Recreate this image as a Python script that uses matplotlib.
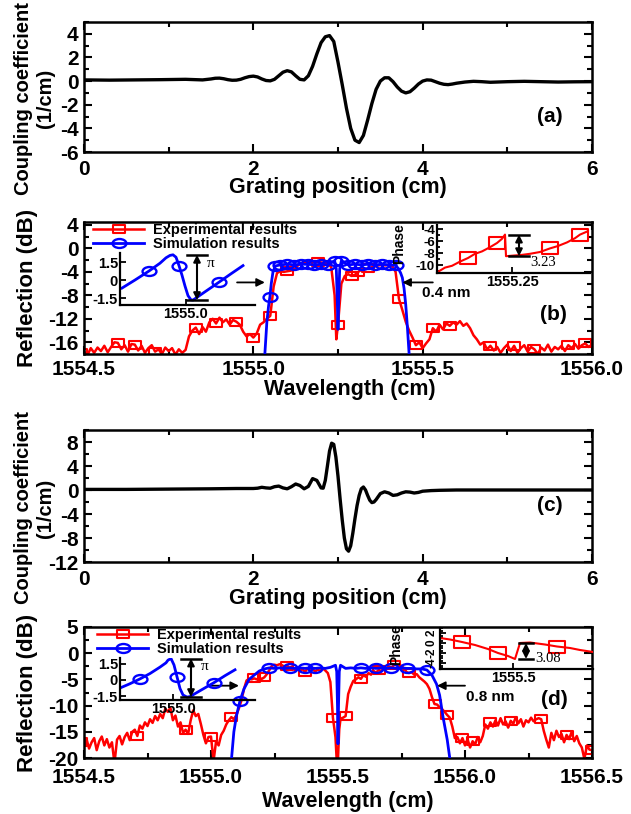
import numpy as np
import matplotlib
matplotlib.use("Agg")
import matplotlib.pyplot as plt
from matplotlib.path import Path
from matplotlib.lines import Line2D
from matplotlib.ticker import MultipleLocator, FixedLocator, FormatStrFormatter, FixedFormatter

plt.rcParams['font.family'] = ['Liberation Sans', 'DejaVu Sans']
plt.rcParams['font.weight'] = 'bold'
plt.rcParams['axes.labelweight'] = 'bold'
plt.rcParams['axes.unicode_minus'] = False

# ---------------- data: panel (a) ----------------
a_pos = [0.0, 0.3, 0.6, 0.9, 1.2, 1.4, 1.5, 1.55, 1.6, 1.65,
         1.7, 1.75, 1.8, 1.85, 1.9, 1.95, 2.0, 2.05, 2.1, 2.15,
         2.2, 2.25, 2.3, 2.35, 2.4, 2.45, 2.5, 2.55, 2.6, 2.65,
         2.7, 2.75, 2.8, 2.85, 2.9, 2.95, 3.0, 3.05, 3.1, 3.15,
         3.2, 3.25, 3.3, 3.35, 3.4, 3.45, 3.5, 3.55, 3.6, 3.65,
         3.7, 3.75, 3.8, 3.85, 3.9, 3.95, 4.0, 4.05, 4.1, 4.15,
         4.2, 4.25, 4.3, 4.35, 4.4, 4.5, 4.6, 4.7, 4.8, 5.0,
         5.2, 5.4, 5.6, 5.8, 6.0]
a_kappa = [0.10, 0.08, 0.10, 0.12, 0.15, 0.10, 0.18, 0.24, 0.25, 0.20,
           0.12, 0.07, 0.08, 0.15, 0.28, 0.38, 0.42, 0.35, 0.18, 0.05,
           0.02, 0.15, 0.45, 0.75, 0.88, 0.78, 0.45, 0.15, 0.10, 0.45,
           1.25, 2.30, 3.25, 3.75, 3.85, 3.35, 1.60, -0.30, -2.30, -4.00,
           -5.00, -5.20, -4.60, -3.30, -1.90, -0.70, 0.00, 0.28, 0.28, -0.05,
           -0.50, -0.85, -1.00, -0.90, -0.60, -0.25, 0.00, 0.10, 0.08, -0.05,
           -0.18, -0.27, -0.30, -0.25, -0.18, -0.08, -0.02, -0.05, -0.10, -0.05,
           -0.02, -0.05, -0.08, -0.06, -0.05]

# ---------------- data: panel (c) ----------------
c_pos = [0.0, 0.5, 1.0, 1.5, 1.8, 2.0, 2.05, 2.1, 2.15, 2.2,
         2.25, 2.3, 2.35, 2.4, 2.45, 2.5, 2.55, 2.6, 2.65, 2.7,
         2.75, 2.8, 2.825, 2.85, 2.875, 2.9, 2.925, 2.95, 2.975, 3.0,
         3.025, 3.05, 3.075, 3.1, 3.125, 3.15, 3.175, 3.2, 3.225, 3.25,
         3.275, 3.3, 3.325, 3.35, 3.375, 3.4, 3.425, 3.45, 3.5, 3.55,
         3.6, 3.65, 3.7, 3.75, 3.8, 3.85, 3.9, 3.95, 4.0, 4.1,
         4.2, 4.4, 4.6, 5.0, 5.5, 6.0]
c_kappa = [0.10, 0.10, 0.15, 0.20, 0.25, 0.25, 0.30, 0.45, 0.35, 0.30,
           0.55, 0.65, 0.35, 0.20, 0.55, 1.00, 0.75, 0.20, 0.60, 1.90,
           1.60, 0.35, 0.30, 1.60, 4.00, 6.50, 7.80, 7.60, 5.50, 2.30,
           -1.50, -5.00, -8.00, -9.80, -10.20, -9.30, -7.20, -4.80, -2.60, -0.90,
           0.20, 0.50, 0.00, -0.90, -1.70, -2.10, -2.00, -1.60, -0.60, -0.30,
           -0.50, -0.90, -0.80, -0.50, -0.30, -0.35, -0.50, -0.40, -0.20, -0.10,
           -0.05, 0.00, 0.00, 0.00, 0.00, 0.00]

# ---------------- data: panel (b) ----------------
b_exp_wl = [1554.48, 1554.49, 1554.50, 1554.51, 1554.52, 1554.53, 1554.54, 1554.55, 1554.56, 1554.57,
            1554.58, 1554.59, 1554.60, 1554.61, 1554.62, 1554.63, 1554.64, 1554.65, 1554.66, 1554.67,
            1554.68, 1554.69, 1554.70, 1554.71, 1554.72, 1554.73, 1554.74, 1554.75, 1554.76, 1554.77,
            1554.78, 1554.79, 1554.80, 1554.81, 1554.82, 1554.83, 1554.84, 1554.85, 1554.86, 1554.87,
            1554.88, 1554.89, 1554.90, 1554.91, 1554.92, 1554.93, 1554.94, 1554.95, 1554.96, 1554.97,
            1554.98, 1554.99, 1555.00, 1555.01, 1555.02, 1555.03, 1555.04, 1555.05, 1555.06, 1555.07,
            1555.08, 1555.09, 1555.10, 1555.11, 1555.12, 1555.13, 1555.14, 1555.15, 1555.16, 1555.17,
            1555.18, 1555.19, 1555.20, 1555.21, 1555.22, 1555.23, 1555.24, 1555.245, 1555.25, 1555.26,
            1555.27, 1555.28, 1555.29, 1555.30, 1555.31, 1555.32, 1555.33, 1555.34, 1555.35, 1555.36,
            1555.37, 1555.38, 1555.39, 1555.40, 1555.41, 1555.42, 1555.43, 1555.44, 1555.45, 1555.46,
            1555.47, 1555.48, 1555.49, 1555.50, 1555.51, 1555.52, 1555.53, 1555.54, 1555.55, 1555.56,
            1555.57, 1555.58, 1555.59, 1555.60, 1555.61, 1555.62, 1555.63, 1555.64, 1555.65, 1555.66,
            1555.67, 1555.68, 1555.69, 1555.70, 1555.71, 1555.72, 1555.73, 1555.74, 1555.75, 1555.76,
            1555.77, 1555.78, 1555.79, 1555.80, 1555.81, 1555.82, 1555.83, 1555.84, 1555.85, 1555.86,
            1555.87, 1555.88, 1555.89, 1555.90, 1555.91, 1555.92, 1555.93, 1555.94, 1555.95, 1555.96,
            1555.97, 1555.98, 1555.99, 1556.00]
b_exp_db = [-17.9, -17.9, -17.6, -18.2, -17.0, -17.8, -16.9, -17.5, -16.6, -17.7,
            -16.8, -16.0, -16.1, -17.2, -16.5, -17.6, -16.3, -16.4, -17.4, -16.6,
            -17.8, -17.0, -16.5, -17.6, -17.2, -18.0, -16.9, -17.5, -17.0, -18.1,
            -17.2, -17.8, -17.3, -15.0, -14.0, -13.5, -14.6, -13.4, -14.2, -12.6,
            -12.0, -12.8, -11.8, -12.6, -12.1, -13.0, -12.2, -12.5, -13.0, -14.2,
            -15.0, -14.6, -15.2, -14.5, -13.0, -12.6, -12.0, -11.5, -6.5, -4.2,
            -3.9, -4.0, -3.9, -3.8, -3.6, -3.0, -2.5, -2.4, -2.3, -2.2,
            -2.4, -2.3, -2.4, -2.5, -2.6, -3.2, -8.0, -15.5, -13.0, -6.0,
            -4.7, -4.4, -4.7, -4.5, -4.0, -3.6, -3.5, -3.4, -3.2, -3.0,
            -2.9, -2.8, -2.9, -2.8, -3.0, -4.0, -8.6, -10.5, -12.5, -14.0,
            -15.2, -16.5, -16.0, -17.0, -16.2, -15.5, -13.6, -14.2, -13.0, -13.8,
            -12.8, -13.2, -12.6, -13.0, -12.4, -13.2, -12.8, -13.6, -14.8, -15.5,
            -16.4, -16.0, -17.2, -16.6, -17.4, -16.8, -17.8, -17.0, -16.4, -17.5,
            -16.6, -17.8, -17.0, -16.5, -17.6, -16.8, -17.2, -18.0, -16.9, -17.4,
            -16.4, -17.6, -16.8, -17.2, -16.6, -17.5, -16.5, -17.0, -16.3, -17.1,
            -16.5, -16.2, -16.8, -16.4]
b_exp_marks = [1554.49, 1554.60, 1554.65, 1554.71, 1554.83, 1554.89, 1554.95, 1555.00,
               1555.05, 1555.10, 1555.19, 1555.25, 1555.29, 1555.31, 1555.34, 1555.43,
               1555.48, 1555.53, 1555.58, 1555.70, 1555.77, 1555.83, 1555.93, 1555.98]

b_sim_wl = [1555.034, 1555.040, 1555.045, 1555.049, 1555.053, 1555.058, 1555.065,
            1555.08, 1555.10, 1555.12, 1555.14, 1555.16, 1555.18, 1555.20, 1555.22, 1555.24,
            1555.245, 1555.248, 1555.25, 1555.252, 1555.255,
            1555.26, 1555.28, 1555.30, 1555.32, 1555.34, 1555.36, 1555.38, 1555.40, 1555.42,
            1555.428, 1555.435, 1555.44, 1555.445, 1555.45, 1555.455, 1555.46]
b_sim_db = [-18.0, -12.5, -9.8, -8.2, -6.0, -4.0, -3.0,
            -2.8, -2.7, -2.8, -2.7, -2.7, -2.8, -2.7, -2.8, -2.1,
            -3.5, -9.0, -13.8, -9.0, -3.5,
            -2.1, -2.8, -2.7, -2.8, -2.7, -2.8, -2.7, -2.8, -2.9,
            -3.4, -4.2, -5.0, -6.8, -9.6, -13.5, -18.0]
b_sim_marks = [1555.049, 1555.065, 1555.08, 1555.10, 1555.12, 1555.14, 1555.16, 1555.18,
               1555.20, 1555.22, 1555.24, 1555.26, 1555.28, 1555.30, 1555.32, 1555.34,
               1555.36, 1555.38, 1555.40, 1555.42]

# inset (b) left: simulated phase around 1555.0 nm
b_in_wl = [1554.936, 1554.949, 1554.963, 1554.974, 1554.980, 1554.984, 1554.987, 1554.990, 1554.993,
           1554.996, 1554.999, 1555.002, 1555.005, 1555.007, 1555.019, 1555.033, 1555.045, 1555.057]
b_in_phase = [-0.67, 0.00, 0.75, 1.40, 1.85, 2.05, 2.10, 1.90, 1.20,
              0.40, -0.50, -1.30, -1.65, -1.67, -0.98, -0.18, 0.52, 1.20]
b_in_marks = [1554.963, 1554.993, 1555.033]

# inset (b) right: measured phase around 1555.25 nm
b_ph_wl = [1555.102, 1555.116, 1555.130, 1555.146, 1555.162, 1555.176, 1555.190, 1555.206,
           1555.220, 1555.230, 1555.236, 1555.238, 1555.252, 1555.268, 1555.286, 1555.306,
           1555.326, 1555.342, 1555.360, 1555.376, 1555.386, 1555.400]
b_ph = [-11.1, -10.4, -10.1, -9.4, -8.8, -8.1, -7.7, -7.0,
        -6.3, -5.6, -4.9, -8.5, -8.4, -8.3, -8.1, -7.8,
        -7.2, -6.8, -6.2, -5.5, -4.9, -4.4]
b_ph_marks = [1555.162, 1555.220, 1555.326, 1555.386]

# ---------------- data: panel (d) ----------------
d_exp_wl = [1554.47, 1554.48, 1554.49, 1554.50, 1554.51, 1554.52, 1554.53, 1554.54, 1554.55, 1554.56,
            1554.57, 1554.58, 1554.59, 1554.60, 1554.61, 1554.62, 1554.63, 1554.64, 1554.65, 1554.66,
            1554.67, 1554.68, 1554.69, 1554.70, 1554.71, 1554.72, 1554.73, 1554.74, 1554.75, 1554.76,
            1554.77, 1554.78, 1554.79, 1554.80, 1554.81, 1554.82, 1554.83, 1554.84, 1554.85, 1554.86,
            1554.87, 1554.88, 1554.89, 1554.90, 1554.91, 1554.92, 1554.93, 1554.94, 1554.95, 1554.96,
            1554.97, 1554.98, 1554.99, 1555.00, 1555.01, 1555.02, 1555.03, 1555.04, 1555.05, 1555.06,
            1555.07, 1555.08, 1555.09, 1555.10, 1555.11, 1555.12, 1555.13, 1555.14, 1555.15, 1555.16,
            1555.17, 1555.18, 1555.19, 1555.20, 1555.21, 1555.22, 1555.23, 1555.24, 1555.25, 1555.26,
            1555.27, 1555.28, 1555.29, 1555.30, 1555.31, 1555.32, 1555.33, 1555.34, 1555.35, 1555.36,
            1555.37, 1555.38, 1555.39, 1555.40, 1555.41, 1555.42, 1555.43, 1555.44, 1555.45, 1555.46,
            1555.47, 1555.48, 1555.49, 1555.495, 1555.50, 1555.505, 1555.51, 1555.52, 1555.53, 1555.54,
            1555.55, 1555.56, 1555.57, 1555.58, 1555.59, 1555.60, 1555.61, 1555.62, 1555.63, 1555.64,
            1555.65, 1555.66, 1555.67, 1555.68, 1555.69, 1555.70, 1555.71, 1555.72, 1555.73, 1555.74,
            1555.75, 1555.76, 1555.77, 1555.78, 1555.79, 1555.80, 1555.81, 1555.82, 1555.83, 1555.84,
            1555.85, 1555.86, 1555.87, 1555.88, 1555.89, 1555.90, 1555.91, 1555.92, 1555.93, 1555.94,
            1555.95, 1555.96, 1555.97, 1555.98, 1555.99, 1556.00, 1556.01, 1556.02, 1556.03, 1556.04,
            1556.05, 1556.06, 1556.07, 1556.08, 1556.09, 1556.10, 1556.11, 1556.12, 1556.13, 1556.14,
            1556.15, 1556.16, 1556.17, 1556.18, 1556.19, 1556.20, 1556.21, 1556.22, 1556.23, 1556.24,
            1556.25, 1556.26, 1556.27, 1556.28, 1556.29, 1556.30, 1556.31, 1556.32, 1556.33, 1556.34,
            1556.35, 1556.36, 1556.37, 1556.38, 1556.39, 1556.40, 1556.41, 1556.42, 1556.43, 1556.44,
            1556.45, 1556.46, 1556.47, 1556.48, 1556.49, 1556.50, 1556.51]
d_exp_db = [-16.8, -16.6, -16.9, -17.8, -16.4, -18.2, -17.0, -16.2, -18.5, -16.8,
            -15.9, -17.6, -16.4, -18.0, -17.0, -21.0, -16.5, -15.8, -17.4, -16.0,
            -15.2, -16.6, -15.0, -14.6, -15.8, -13.8, -14.4, -13.2, -13.9, -12.6,
            -13.3, -12.0, -12.8, -11.6, -12.4, -10.6, -11.2, -10.4, -12.8, -11.9,
            -14.0, -13.2, -15.2, -14.6, -15.4, -12.8, -10.9, -12.0, -11.6, -13.5,
            -15.6, -17.2, -16.0, -15.9, -20.6, -16.8, -17.6, -15.6, -14.8, -13.6,
            -12.8, -12.2, -12.6, -11.8, -10.5, -9.0, -6.8, -5.2, -4.9, -5.0,
            -4.8, -5.0, -4.7, -4.9, -4.6, -4.0, -3.2, -2.4, -2.2, -2.3,
            -2.1, -2.3, -2.6, -2.4, -2.8, -2.5, -3.2, -2.7, -3.4, -3.0,
            -3.6, -2.9, -3.3, -3.0, -3.5, -3.1, -3.4, -2.9, -3.3, -3.8,
            -5.5, -12.3, -16.0, -20.5, -20.0, -14.5, -12.5, -12.3, -12.0, -7.8,
            -6.4, -5.3, -5.0, -4.6, -4.9, -4.2, -4.5, -3.8, -4.1, -3.4,
            -3.7, -3.2, -3.4, -2.9, -3.1, -2.5, -2.8, -2.3, -2.2, -2.6,
            -2.4, -2.9, -3.6, -3.8, -3.6, -4.1, -4.0, -4.6, -5.0, -5.4,
            -5.9, -6.8, -8.4, -9.7, -9.8, -10.3, -10.7, -11.2, -11.8, -12.3,
            -14.0, -16.2, -16.0, -17.2, -16.2, -17.6, -16.4, -18.0, -16.8, -17.4,
            -16.0, -17.0, -15.8, -13.6, -14.4, -13.2, -14.0, -12.8, -13.8, -12.4,
            -13.6, -13.0, -14.2, -12.9, -13.5, -12.2, -13.4, -12.6, -14.0, -12.8,
            -13.2, -12.3, -13.0, -12.6, -12.4, -12.6, -14.8, -16.5, -18.0, -15.2,
            -16.6, -14.8, -16.0, -15.4, -17.0, -15.6, -16.4, -15.0, -16.8, -15.8,
            -17.2, -18.0, -20.2, -17.6, -18.4, -18.5, -18.2]
d_exp_marks = [1554.49, 1554.71, 1554.90, 1555.00, 1555.08, 1555.17, 1555.21, 1555.30,
               1555.37, 1555.48, 1555.53, 1555.59, 1555.66, 1555.72, 1555.78, 1555.88,
               1555.93, 1555.99, 1556.03, 1556.10, 1556.18, 1556.30, 1556.40, 1556.50]

d_sim_wl = [1555.081, 1555.09, 1555.10, 1555.114, 1555.13, 1555.15, 1555.167, 1555.19, 1555.21,
            1555.23, 1555.25, 1555.27, 1555.29, 1555.31, 1555.33, 1555.35, 1555.37, 1555.39,
            1555.41, 1555.43, 1555.45, 1555.47,
            1555.49, 1555.495, 1555.498, 1555.50, 1555.502, 1555.505, 1555.51,
            1555.53, 1555.55, 1555.57, 1555.59, 1555.61, 1555.63, 1555.65, 1555.67, 1555.69,
            1555.71, 1555.73, 1555.75, 1555.77, 1555.79, 1555.81, 1555.83, 1555.85,
            1555.87, 1555.888, 1555.90, 1555.914, 1555.93, 1555.94]
d_sim_db = [-20.0, -15.0, -12.0, -9.1, -6.8, -5.0, -4.3, -3.4, -3.0,
            -2.8, -2.9, -2.8, -2.9, -2.8, -2.9, -2.8, -2.9, -2.8,
            -2.9, -2.8, -2.9, -2.7,
            -2.3, -3.5, -10.0, -17.3, -10.0, -3.5, -2.3,
            -2.9, -2.8, -2.9, -2.8, -2.9, -2.8, -2.9, -2.8, -2.9,
            -2.8, -2.9, -2.8, -2.9, -2.9, -3.0, -3.0, -3.2,
            -4.2, -5.9, -8.0, -12.3, -16.5, -20.0]
d_sim_marks = [1555.114, 1555.23, 1555.31, 1555.37, 1555.41, 1555.59, 1555.65,
               1555.71, 1555.77, 1555.85]

# inset (d) left: simulated phase around 1555.0 nm
d_in_wl = [1554.947, 1554.957, 1554.967, 1554.977, 1554.987, 1554.993, 1554.995, 1554.998, 1555.001,
           1555.004, 1555.007, 1555.010, 1555.014, 1555.017, 1555.028, 1555.041, 1555.052, 1555.062]
d_in_phase = [-0.75, -0.35, 0.10, 0.60, 1.20, 1.60, 1.85, 2.00, 1.40,
              0.30, -0.80, -1.40, -1.60, -1.55, -0.95, -0.25, 0.40, 0.95]
d_in_marks = [1554.967, 1555.004, 1555.041]

# inset (d) right: measured phase around 1555.5 nm
d_ph_wl = [1555.354, 1555.374, 1555.398, 1555.424, 1555.450, 1555.470, 1555.490, 1555.504,
           1555.514, 1555.534, 1555.564, 1555.588, 1555.614, 1555.634, 1555.660]
d_ph = [1.0, 0.7, 0.2, -0.4, -1.2, -2.0, -2.6, -3.2,
        0.0, 0.1, -0.3, -0.7, -1.0, -1.4, -1.8]
d_ph_marks = [1555.398, 1555.470, 1555.588]

# ---------------- figure ----------------
W, H = 631, 814
fig = plt.figure(figsize=(W / 100, H / 100), dpi=100)


def px_axes(l, t, r, b):
    return fig.add_axes([l / W, 1 - b / H, (r - l) / W, (b - t) / H])


def idx_of(xs, marks):
    xs = np.asarray(xs)
    return [int(np.argmin(np.abs(xs - m))) for m in marks]


rect = Path([(-1.35, -1), (1.35, -1), (1.35, 1), (-1.35, 1), (-1.35, -1)],
            [Path.MOVETO, Path.LINETO, Path.LINETO, Path.LINETO, Path.CLOSEPOLY])
_c = Path.unit_circle()
ellipse = Path(_c.vertices * np.array([1.55, 1.0]), _c.codes)

RED = '#ff0000'
BLUE = '#0000ff'
red_style = dict(color=RED, lw=1.8, marker=rect, ms=8.5, mfc='none', mec=RED, mew=1.5)
blue_style = dict(color=BLUE, lw=2.0, marker=ellipse, ms=10, mfc='none', mec=BLUE, mew=1.7)
SERIF = ['Liberation Serif', 'DejaVu Serif']


def style_main(ax):
    for s in ax.spines.values():
        s.set_linewidth(1.8)
    ax.tick_params(which='both', direction='in', top=True, right=True, width=1.5,
                   labelsize=15, pad=4)
    ax.tick_params(which='major', length=6)
    ax.tick_params(which='minor', length=3.5)


def style_inset(ax, fs=10.5):
    ax.set_facecolor('none')
    ax.spines['top'].set_visible(False)
    ax.spines['right'].set_visible(False)
    for s in ('left', 'bottom'):
        ax.spines[s].set_linewidth(1.6)
    ax.tick_params(which='both', direction='in', width=1.3, labelsize=fs, pad=1.5)
    ax.tick_params(which='major', length=4)
    ax.tick_params(which='minor', length=2)


def kappa_panel(box, pos, kappa, ylim, yticks, yminor, tag, tag_y):
    ax = px_axes(*box)
    ax.plot(pos, kappa, color='black', lw=2.4)
    ax.set_xlim(0, 6)
    ax.set_ylim(*ylim)
    ax.xaxis.set_major_locator(MultipleLocator(2))
    ax.xaxis.set_minor_locator(MultipleLocator(1))
    ax.yaxis.set_major_locator(FixedLocator(yticks))
    ax.yaxis.set_minor_locator(MultipleLocator(yminor))
    style_main(ax)
    ax.tick_params(axis='x', pad=6)
    ax.set_ylabel('Coupling coefficient\n(1/cm)', fontsize=14.5, linespacing=1.2)
    ax.yaxis.set_label_coords(-0.058, 0.41)
    ax.set_xlabel('Grating position (cm)', fontsize=15.5)
    ax.xaxis.set_label_coords(0.5, -0.195)
    ax.text(5.5, tag_y, tag, fontsize=15, ha='center', va='center')
    return ax


axA = kappa_panel((84, 22, 592, 152), a_pos, a_kappa, (-6, 5), [-6, -4, -2, 0, 2, 4], 1,
                  '(a)', -3.0)
axC = kappa_panel((84, 430, 592, 562), c_pos, c_kappa, (-12, 10), [-12, -8, -4, 0, 4, 8], 2,
                  '(c)', -2.6)
axC.get_yticklabels()[0].set_va('center_baseline')


def spectrum_panel(box, exp_wl, exp_db, exp_marks, sim_wl, sim_db, sim_marks,
                   xlim, ylim, yminor, ylabels_at, xpad, leg_xy):
    ax = px_axes(*box)
    ax.plot(exp_wl, exp_db, markevery=idx_of(exp_wl, exp_marks), zorder=2, **red_style)
    ax.plot(sim_wl, sim_db, markevery=idx_of(sim_wl, sim_marks), zorder=3, **blue_style)
    ax.set_xlim(*xlim)
    ax.set_ylim(*ylim)
    ax.xaxis.set_major_locator(MultipleLocator(0.5))
    ax.xaxis.set_minor_locator(MultipleLocator(0.25))
    ax.xaxis.set_major_formatter(FormatStrFormatter('%.1f'))
    ax.yaxis.set_major_locator(FixedLocator(ylabels_at))
    ax.yaxis.set_minor_locator(MultipleLocator(yminor))
    style_main(ax)
    ax.tick_params(axis='x', pad=xpad)
    ax.set_ylabel('Reflection (dB)', fontsize=16)
    ax.yaxis.set_label_coords(-0.09, 0.5)
    ax.set_xlabel('Wavelength (cm)', fontsize=15.5)
    handles = [Line2D([], [], **red_style), Line2D([], [], **blue_style)]
    ax.legend(handles, ['Experimental results', 'Simulation results'], loc='upper left',
              bbox_to_anchor=(leg_xy[0] / W, 1 - leg_xy[1] / H), bbox_transform=fig.transFigure,
              frameon=False, fontsize=10.5, handlelength=3.5, handletextpad=0.6,
              borderaxespad=0, borderpad=0, labelspacing=-0.02, numpoints=1)
    return ax


def harrow(ax, tail, head):
    ax.annotate('', xy=head, xytext=tail,
                arrowprops=dict(arrowstyle='-|>', color='black', lw=1.3, mutation_scale=12,
                                shrinkA=0, shrinkB=0))


# ---- (b) ----
axB = spectrum_panel((84, 222, 592, 354), b_exp_wl, b_exp_db, b_exp_marks,
                     b_sim_wl, b_sim_db, b_sim_marks,
                     (1554.5, 1556.0), (-18, 4.5), 2, [-16, -12, -8, -4, 0, 4], 4, (93, 223))
axB.xaxis.set_label_coords(0.524, -0.19)
harrow(axB, (1554.952, -5.8), (1555.034, -5.8))
harrow(axB, (1555.53, -5.8), (1555.44, -5.8))
axB.text(1555.569, -7.6, '0.4 nm', fontsize=11, ha='center', va='center')
axB.text(1555.885, -11.3, '(b)', fontsize=15, ha='center', va='center')

# ---- (d) ----
axD = spectrum_panel((84, 627, 592, 758), d_exp_wl, d_exp_db, d_exp_marks,
                     d_sim_wl, d_sim_db, d_sim_marks,
                     (1554.5, 1556.5), (-20, 5), 2.5, [-20, -15, -10, -5, 0, 5], 7, (97, 628))
axD.xaxis.set_label_coords(0.52, -0.25)
harrow(axD, (1555.0, -6.2), (1555.11, -6.2))
harrow(axD, (1556.0, -6.2), (1555.89, -6.2))
axD.text(1556.10, -8.3, '0.8 nm', fontsize=11, ha='center', va='center')
axD.text(1556.35, -8.8, '(d)', fontsize=15, ha='center', va='center')


def double_arrow(ax, x, ytop, ybot, half):
    ax.annotate('', xy=(x, ybot), xytext=(x, ytop),
                arrowprops=dict(arrowstyle='<|-|>', color='black', lw=1.5,
                                mutation_scale=10, shrinkA=0, shrinkB=0))
    ax.plot([x - half, x + half], [ytop, ytop], color='black', lw=1.8)
    ax.plot([x - half, x + half], [ybot, ybot], color='black', lw=1.8)


def sim_phase_inset(box, wl, ph, marks, xlim, ylim, tick):
    ax = px_axes(*box)
    style_inset(ax)
    ax.plot(wl, ph, markevery=idx_of(wl, marks), **blue_style)
    ax.set_xlim(*xlim)
    ax.set_ylim(*ylim)
    ax.xaxis.set_major_locator(FixedLocator([tick]))
    ax.xaxis.set_major_formatter(FormatStrFormatter('%.1f'))
    ax.yaxis.set_major_locator(FixedLocator([-1.5, 0, 1.5]))
    ax.yaxis.set_major_formatter(FixedFormatter(['-1.5', '0', '1.5']))
    i_min = int(np.argmin(ph))
    xa = wl[i_min] + 0.004
    double_arrow(ax, xa, max(ph), min(ph), 0.01)
    ax.text(xa + 0.014, 0.5 * max(ph) + 0.3, 'π', family=SERIF, fontweight='normal',
            fontsize=11, ha='center', va='center')
    return ax


sim_phase_inset((120, 253, 255, 305), b_in_wl, b_in_phase, b_in_marks,
                (1554.934, 1555.069), (-2.08, 2.25), 1555.0)
sim_phase_inset((120, 658, 255, 700), d_in_wl, d_in_phase, d_in_marks,
                (1554.947, 1555.082), (-1.87, 2.05), 1555.0)

# measured phase insets
ph_style = dict(red_style, ms=11, lw=1.5)

axBR = px_axes(437, 225, 590, 273)
style_inset(axBR, fs=9.5)
axBR.plot(b_ph_wl, b_ph, markevery=idx_of(b_ph_wl, b_ph_marks), **ph_style)
axBR.set_xlim(1555.10, 1555.406)
axBR.set_ylim(-11.3, -3.3)
axBR.xaxis.set_major_locator(FixedLocator([1555.25]))
axBR.xaxis.set_major_formatter(FormatStrFormatter('%.2f'))
axBR.tick_params(axis='x', labelsize=10.5)
axBR.yaxis.set_major_locator(FixedLocator([-10, -8, -6, -4]))
axBR.yaxis.set_minor_locator(MultipleLocator(1))
axBR.set_ylabel('Phase', fontsize=10)
axBR.yaxis.set_label_coords(-0.2, 0.62)
jb = int(np.argmin(np.diff(b_ph)))
double_arrow(axBR, b_ph_wl[jb] + 0.028, b_ph[jb], b_ph[jb + 1], 0.02)
axBR.text(b_ph_wl[jb] + 0.05, b_ph[jb + 1] - 1.0, '3.23', family=SERIF, fontweight='normal',
          fontsize=10.5, ha='left', va='center')

axDR = px_axes(440, 628, 593, 669)
style_inset(axDR, fs=8.5)
axDR.plot(d_ph_wl, d_ph, markevery=idx_of(d_ph_wl, d_ph_marks), **ph_style)
axDR.set_xlim(1555.354, 1555.66)
axDR.set_ylim(-5.2, 3.0)
axDR.xaxis.set_major_locator(FixedLocator([1555.5]))
axDR.xaxis.set_major_formatter(FormatStrFormatter('%.1f'))
axDR.tick_params(axis='x', labelsize=10.5)
axDR.yaxis.set_major_locator(FixedLocator([-4, -2, 0, 2]))
axDR.yaxis.set_minor_locator(MultipleLocator(0.5))
for lab in axDR.get_yticklabels():
    lab.set_rotation(90)
    lab.set_va('center')
axDR.set_ylabel('Phase', fontsize=10)
axDR.yaxis.set_label_coords(-0.24, 0.6)
jd = int(np.argmax(np.diff(d_ph)))
double_arrow(axDR, d_ph_wl[jd] + 0.022, d_ph[jd + 1], d_ph[jd], 0.014)
axDR.text(d_ph_wl[jd] + 0.04, d_ph[jd] + 0.1, '3.08', family=SERIF, fontweight='normal',
          fontsize=10.5, ha='left', va='center')

fig.savefig('out.png', dpi=100)
